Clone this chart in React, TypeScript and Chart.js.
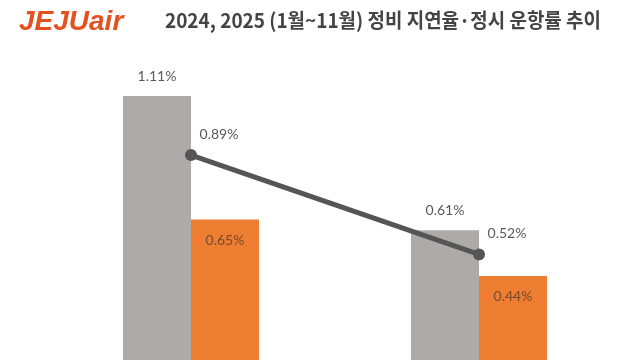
import React, { useEffect, useRef } from "react";
import { Chart, registerables } from "chart.js";

Chart.register(...registerables);

const categories = ["2024", "2025"];
const delayRate = [1.11, 0.61];
const orangeRate = [0.65, 0.44];
const lineRate = [0.89, 0.52];
const titleText = "2024, 2025 (1월~11월) 정비 지연율·정시 운항률 추이";
const logoText = "JEJUair";

const fmt = (v: number) => v.toFixed(2) + "%";

const labelPlugin = {
  id: "labelPlugin",
  afterDraw(chart: any) {
    const ctx = chart.ctx as CanvasRenderingContext2D;
    ctx.save();
    // logo
    ctx.fillStyle = "#E5501F";
    ctx.font = "italic 900 28px 'Liberation Sans', Arial, sans-serif";
    ctx.textAlign = "left";
    ctx.textBaseline = "alphabetic";
    ctx.fillText(logoText, 19, 30, 124);
    // title
    ctx.fillStyle = "#444444";
    ctx.font = "bold 20px 'Noto Sans CJK KR', sans-serif";
    ctx.fillText(titleText, 165, 28, 436);

    ctx.font = "14px Lato, 'Open Sans', sans-serif";
    ctx.textAlign = "center";
    ctx.textBaseline = "middle";
    const m0 = chart.getDatasetMeta(0);
    const m1 = chart.getDatasetMeta(1);
    const m2 = chart.getDatasetMeta(2);
    m0.data.forEach((el: any, i: number) => {
      ctx.fillStyle = "#595959";
      ctx.fillText(fmt(delayRate[i]), el.x, el.y - 20);
    });
    m1.data.forEach((el: any, i: number) => {
      ctx.fillStyle = "#7A4A2A";
      ctx.fillText(fmt(orangeRate[i]), el.x, el.y + 21);
    });
    m2.data.forEach((el: any, i: number) => {
      ctx.fillStyle = "#595959";
      ctx.fillText(fmt(lineRate[i]), el.x + 28, el.y - 21);
    });
    ctx.restore();
  },
};

export default function App() {
  const ref = useRef<HTMLCanvasElement>(null);
  useEffect(() => {
    if (!ref.current) return;
    const chart = new Chart(ref.current, {
      type: "bar",
      data: {
        labels: categories,
        datasets: [
          {
            type: "bar",
            label: "a",
            data: delayRate,
            backgroundColor: "#AEAAAA",
            barPercentage: 1,
            categoryPercentage: 0.4722,
            order: 2,
          },
          {
            type: "bar",
            label: "b",
            data: orangeRate,
            backgroundColor: "#ED7D31",
            barPercentage: 1,
            categoryPercentage: 0.4722,
            order: 2,
          },
          {
            type: "line",
            label: "c",
            data: lineRate,
            borderColor: "#555555",
            backgroundColor: "#555555",
            borderWidth: 5,
            pointRadius: 6,
            pointBackgroundColor: "#555555",
            pointBorderWidth: 0,
            order: 0,
          } as any,
        ],
      },
      options: {
        responsive: false,
        animation: false,
        layout: { padding: { left: 47, right: 17, top: 45, bottom: 4 } },
        plugins: {
          legend: { display: false },
          tooltip: { enabled: false },
          title: { display: false },
        },
        scales: {
          x: { display: false, offset: true },
          y: { display: false, min: 0, max: 1.3 },
        },
      },
      plugins: [labelPlugin],
    });
    return () => chart.destroy();
  }, []);
  return (
    <div style={{ position: "absolute", left: 0, top: 0, width: 640, height: 400, background: "#fff" }}>
      <canvas ref={ref} width={640} height={400} style={{ display: "block" }} />
    </div>
  );
}
